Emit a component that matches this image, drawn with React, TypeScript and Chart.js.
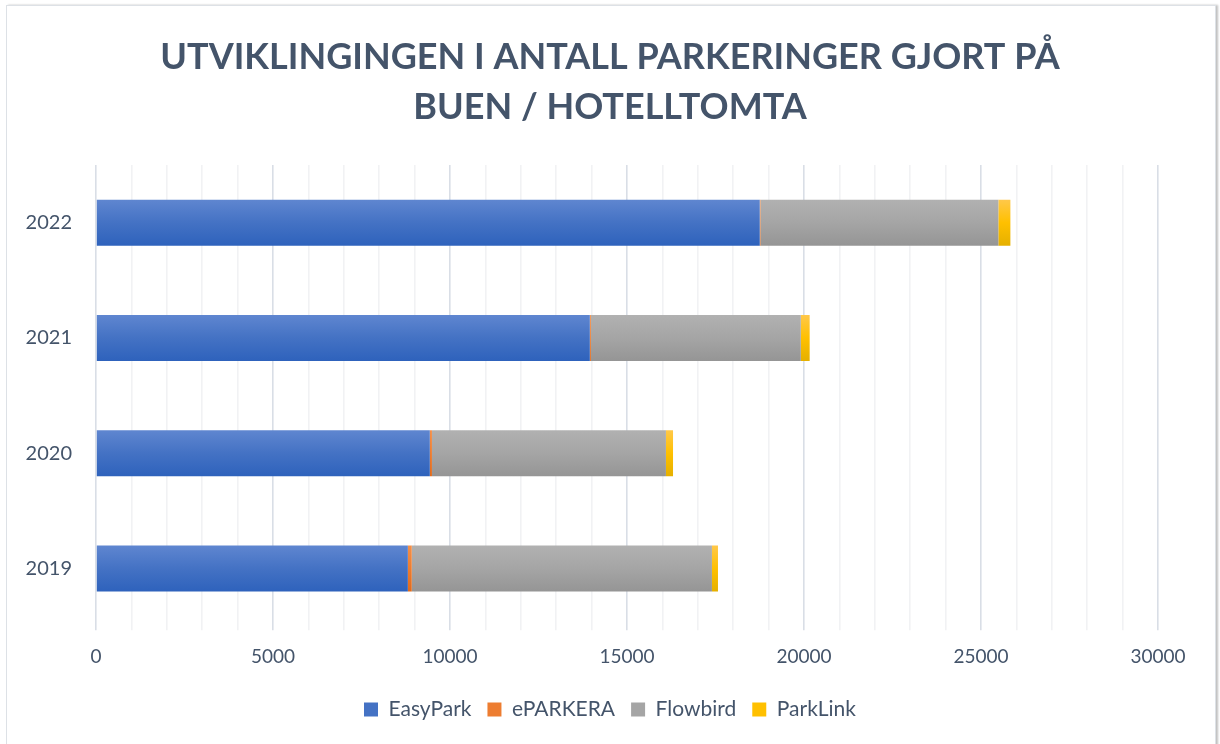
import React, { useEffect, useRef } from "react";
import { Chart, registerables } from "chart.js";

Chart.register(...registerables);

const categories = ["2022", "2021", "2020", "2019"];
const easyPark = [18750, 13950, 9430, 8810];
const eParkera = [20, 30, 60, 110];
const flowbird = [6720, 5930, 6610, 8480];
const parkLink = [340, 250, 200, 170];
const xTicksMajor = [0, 5000, 10000, 15000, 20000, 25000, 30000];

const TEXT = "#44546A";
const FONT = "Lato, 'Open Sans', sans-serif";

type Grad = { top: string; mid: string; bottom: string };
const gEasy: Grad = { top: "#5F86D0", mid: "#4472C4", bottom: "#2E62BC" };
const gEpark: Grad = { top: "#F4904A", mid: "#ED7D31", bottom: "#E06A1C" };
const gFlow: Grad = { top: "#B1B1B1", mid: "#A5A5A5", bottom: "#959595" };
const gPark: Grad = { top: "#FFC84A", mid: "#FFC000", bottom: "#E5B000" };

const BAR_PCT = 0.4;

function gradFill(g: Grad) {
  return (ctx: any) => {
    const chart = ctx.chart;
    const area = chart.chartArea;
    const yScale = chart.scales?.y;
    if (!area || !yScale || ctx.dataIndex === undefined) return g.mid;
    const yc = yScale.getPixelForValue(ctx.dataIndex);
    const h = (area.bottom - area.top) / categories.length * BAR_PCT;
    const gr = chart.ctx.createLinearGradient(0, yc - h / 2, 0, yc + h / 2);
    gr.addColorStop(0, g.top);
    gr.addColorStop(0.5, g.mid);
    gr.addColorStop(1, g.bottom);
    return gr;
  };
}

export default function App() {
  const ref = useRef<HTMLCanvasElement>(null);
  useEffect(() => {
    if (!ref.current) return;
    const mids = [gEasy.mid, gEpark.mid, gFlow.mid, gPark.mid];
    const chart = new Chart(ref.current, {
      type: "bar",
      data: {
        labels: categories,
        datasets: [
          { label: "EasyPark", data: easyPark, backgroundColor: gradFill(gEasy) },
          { label: "ePARKERA", data: eParkera, backgroundColor: gradFill(gEpark) },
          { label: "Flowbird", data: flowbird, backgroundColor: gradFill(gFlow) },
          { label: "ParkLink", data: parkLink, backgroundColor: gradFill(gPark) },
        ],
      },
      options: {
        indexAxis: "y",
        animation: false,
        responsive: false,
        maintainAspectRatio: false,
        datasets: { bar: { barPercentage: BAR_PCT, categoryPercentage: 1, borderWidth: 0 } },
        layout: { padding: { left: 4, right: 4, top: 32, bottom: 14 } },
        scales: {
          x: {
            stacked: true,
            min: 0,
            max: 30000,
            afterBuildTicks: (axis: any) => {
              const t: any[] = [];
              for (let v = 0; v <= 30000; v += 1000) t.push({ value: v });
              axis.ticks = t;
            },
            ticks: {
              autoSkip: false,
              maxRotation: 0,
              color: TEXT,
              padding: 15,
              font: { family: FONT, size: 19 },
              callback: (v: any) => (xTicksMajor.includes(Number(v)) ? String(v) : ""),
            },
            grid: {
              color: (c: any) => (c.tick && c.tick.value % 5000 === 0 ? "#D9DEE6" : "#F1F2F4"),
              lineWidth: 1.6,
              tickLength: 4,
            },
            border: { display: false },
          },
          y: {
            stacked: true,
            grid: { display: false, drawTicks: false },
            border: { display: false },
            afterFit: (s: any) => {
              s.width = 92;
            },
            ticks: { color: TEXT, padding: 24, font: { family: FONT, size: 20 } },
          },
          yR: {
            type: "linear",
            position: "right",
            display: true,
            grid: { display: false, drawTicks: false },
            border: { display: false },
            ticks: { display: false },
            afterFit: (s: any) => {
              s.width = 58;
            },
          },
        },
        plugins: {
          title: {
            display: true,
            text: ["UTVIKLINGINGEN I ANTALL PARKERINGER GJORT PÅ", "BUEN / HOTELLTOMTA"],
            color: TEXT,
            font: { family: FONT, size: 36, weight: "bold", lineHeight: 1.39 },
            padding: { top: 0, bottom: 33 },
          },
          legend: {
            position: "bottom",
            labels: {
              color: TEXT,
              font: { family: FONT, size: 21 },
              boxWidth: 14,
              boxHeight: 14,
              padding: 16,
              generateLabels: (ch: any) =>
                ch.data.datasets.map((d: any, i: number) => ({
                  text: d.label,
                  fillStyle: mids[i],
                  strokeStyle: mids[i],
                  lineWidth: 0,
                  fontColor: TEXT,
                  hidden: false,
                  datasetIndex: i,
                })),
            },
          },
          tooltip: { enabled: false },
        },
      },
    });
    return () => chart.destroy();
  }, []);
  return (
    <div style={{ position: "absolute", left: 0, top: 0, width: 1220, height: 744, background: "#fff", overflow: "hidden" }}>
      <div
        style={{
          position: "absolute",
          left: 6,
          top: 5,
          width: 1208,
          height: 760,
          border: "1.5px solid #DDE1E6",
          boxShadow: "2px 0 2px rgba(0,0,0,0.25)",
        }}
      />
      <canvas ref={ref} width={1220} height={744} style={{ position: "absolute", left: 0, top: 0 }} />
    </div>
  );
}
